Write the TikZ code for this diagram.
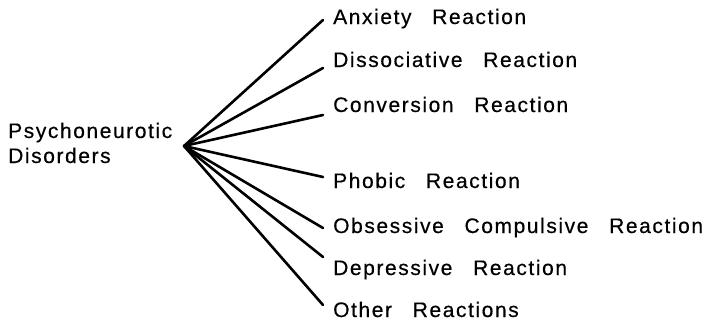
\documentclass[tikz,border=0pt]{standalone}
\usepackage{fontspec}
\setmainfont{Liberation Sans}[LetterSpace=7.5,WordSpace=2.8,FakeBold=0.4]
\begin{document}
\begin{tikzpicture}[x=1pt,y=-1pt,
  lbl/.style={anchor=base west,inner sep=0pt,font=\fontsize{21}{25}\selectfont},
  spoke/.style={line width=2.6pt,line cap=round}]
\useasboundingbox (0,0) rectangle (708,324);
% root label (anchored on the baseline of its last line)
\node[lbl,align=left] (root) at (8,163) {Psychoneurotic\\Disorders};
\coordinate (hub) at (184,146);
% branch labels
\node[lbl] (t1) at (333,24)  {Anxiety Reaction};
\node[lbl] (t2) at (333,67)  {Dissociative Reaction};
\node[lbl] (t3) at (333,112) {Conversion Reaction};
\node[lbl] (t4) at (333,188) {Phobic Reaction};
\node[lbl] (t5) at (333,233) {Obsessive Compulsive Reaction};
\node[lbl] (t6) at (333,275) {Depressive Reaction};
\node[lbl] (t7) at (333,317) {Other Reactions};
% spoke ends
\coordinate (e1) at (323,20);
\coordinate (e2) at (323,68);
\coordinate (e3) at (323,115);
\coordinate (e4) at (323,177);
\coordinate (e5) at (323,228);
\coordinate (e6) at (323,257);
\coordinate (e7) at (323,305);
\foreach \i in {1,...,7} \draw[spoke] (hub) -- (e\i);
\end{tikzpicture}
\end{document}
